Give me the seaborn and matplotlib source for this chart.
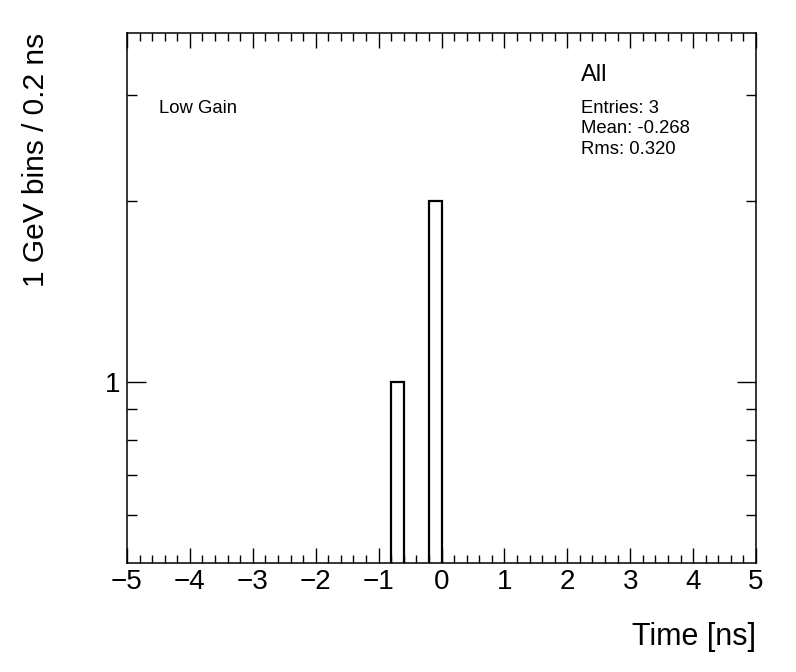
import numpy as np
import pandas as pd
import matplotlib
matplotlib.use('Agg')
import matplotlib.pyplot as plt
import matplotlib.ticker as mticker
import seaborn as sns

# histogram content (0.2 ns bins, only filled bins listed)
bin_edges = [round(v, 2) for v in np.arange(-5.0, 5.0001, 0.2)]
filled_centers = [-0.7, -0.1]
filled_counts = [1, 2]

title_text = "All"
stats_lines = ["Entries: 3", "Mean: -0.268", "Rms: 0.320"]
gain_label = "Low Gain"

sns.set_style('ticks')
plt.rcParams['font.family'] = ['Liberation Sans', 'DejaVu Sans']
plt.rcParams['text.color'] = 'black'
plt.rcParams['axes.labelcolor'] = 'black'
plt.rcParams['xtick.color'] = 'black'
plt.rcParams['ytick.color'] = 'black'

fig = plt.figure(figsize=(7.96, 6.72), dpi=100)
ax = fig.add_axes([127 / 796, 109 / 672, 629 / 796, 530 / 672])

df = pd.DataFrame({'t': filled_centers, 'n': filled_counts})
sns.histplot(data=df, x='t', weights='n', bins=bin_edges,
             fill=False, color='black', linewidth=1.6, ax=ax)

ax.set_yscale('log')
ax.set_xlim(-5, 5)
ax.set_ylim(0.5, 3.8)

ax.xaxis.set_major_locator(mticker.MultipleLocator(1))
ax.xaxis.set_minor_locator(mticker.MultipleLocator(0.2))
ax.yaxis.set_major_locator(mticker.FixedLocator([1]))
ax.yaxis.set_minor_locator(mticker.FixedLocator([0.6, 0.7, 0.8, 0.9, 2, 3]))
ax.yaxis.set_major_formatter(mticker.FixedFormatter(['1']))
ax.yaxis.set_minor_formatter(mticker.NullFormatter())
ax.xaxis.set_major_formatter(mticker.FuncFormatter(lambda v, p: f"{v:.0f}".replace('-', '\u2212')))

ax.tick_params(axis='both', which='both', direction='in', top=True, right=True,
               width=1.0, labelsize=20, color='black', labelcolor='black')
ax.tick_params(axis='x', which='major', length=11, pad=4)
ax.tick_params(axis='x', which='minor', length=6)
ax.tick_params(axis='y', which='major', length=13.5, pad=5)
ax.tick_params(axis='y', which='minor', length=7)

for s in ax.spines.values():
    s.set_linewidth(1.1)
    s.set_color('black')

ax.set_xlabel('Time [ns]', fontsize=22, loc='right', labelpad=20)
ax.set_ylabel('1 GeV bins / 0.2 ns', fontsize=21.5, loc='top')
ax.yaxis.set_label_coords(-0.122, 1.0)

ax.text(0.051, 0.857, gain_label, transform=ax.transAxes, fontsize=13.3,
        ha='left', va='center')
ax.text(0.722, 0.921, title_text, transform=ax.transAxes, fontsize=17,
        ha='left', va='center')
for i, line in enumerate(stats_lines):
    ax.text(0.722, 0.857 - i * 0.038, line, transform=ax.transAxes,
            fontsize=13.3, ha='left', va='center')

fig.savefig('out.png', dpi=100)
